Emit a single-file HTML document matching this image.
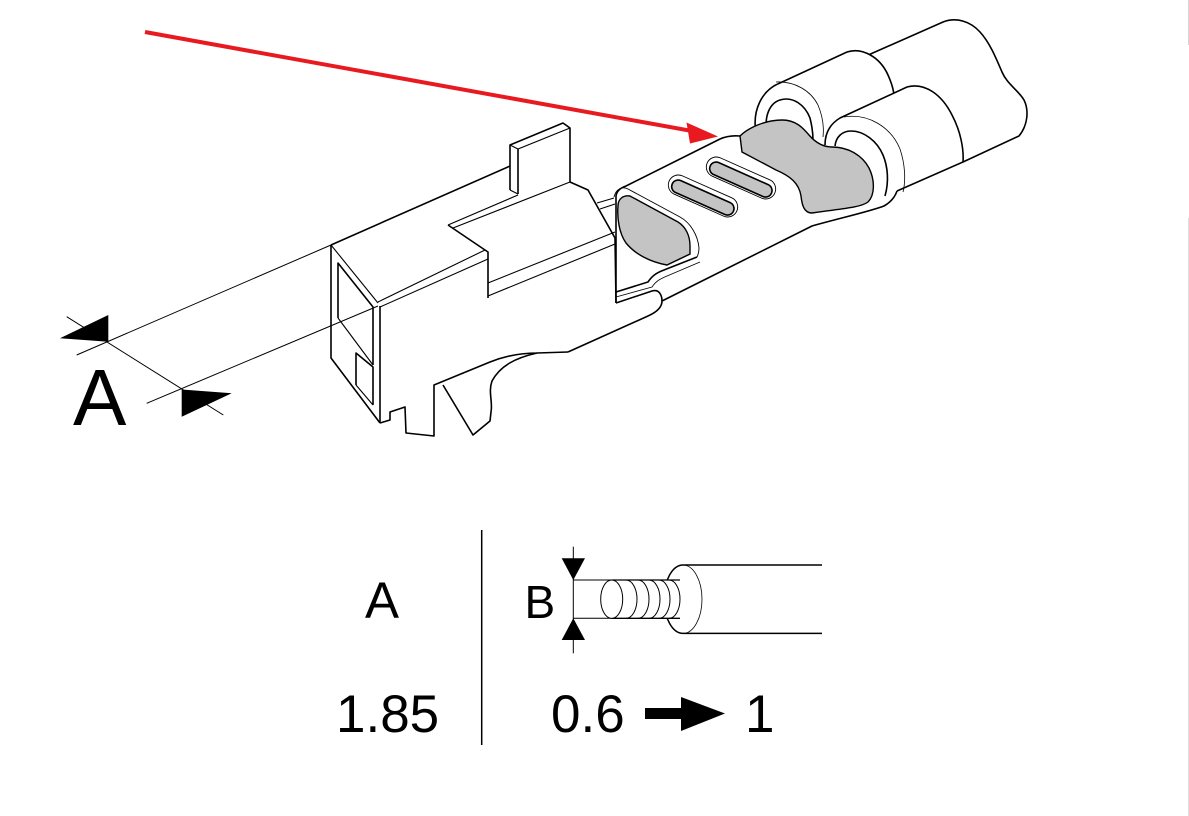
<!DOCTYPE html>
<html>
<head>
<meta charset="utf-8">
<style>
  html,body{margin:0;padding:0;background:#fff;}
  svg{display:block;}
  text{font-family:"Liberation Sans",Arial,sans-serif;fill:#000;}
</style>
</head>
<body>
<svg width="1189" height="816" viewBox="0 0 1189 816" xmlns="http://www.w3.org/2000/svg">
<rect width="1189" height="816" fill="#fff"/>

<!-- faint right edge line -->
<line x1="1188.5" y1="0" x2="1188.5" y2="45" stroke="#d6d6d6" stroke-width="1"/>
<line x1="1188.5" y1="218" x2="1188.5" y2="816" stroke="#dedede" stroke-width="1"/>

<!-- ===== Dimension A (left) ===== -->
<g stroke="#000" stroke-width="1" fill="none">
  <line x1="76.7" y1="355" x2="331" y2="245"/>
  <line x1="146.7" y1="403.3" x2="378" y2="306"/>
  <line x1="66.7" y1="316.7" x2="223.3" y2="415"/>
</g>
<polygon points="60,338.3 108.3,315 108.3,341.7" fill="#000"/>
<polygon points="181.7,389.5 231.7,393.3 181.7,416.7" fill="#000"/>
<text x="73" y="425" font-size="80">A</text>

<!-- ===== Wire (back) ===== -->
<path d="M866,56 L943,22 C956,17 970,21 980,32 C990,43 996,58 1002,72 C1007,84 1018,90 1024,100 C1029,110 1028,125 1019,136 L963,162 L880,150 Z" fill="#fff" stroke="none"/>
<path d="M866,56 L943,22 C956,17 970,21 980,32 C990,43 996,58 1002,72 C1007,84 1018,90 1024,100 C1029,110 1028,125 1019,136 L963,162" fill="none" stroke="#000" stroke-width="1.6"/>

<!-- ===== Back crimp ===== -->
<path d="M756,133 C752,110 762,90 780,83 L847,52 C862,47 880,57 888,75 C893,86 895,95 894,100 L830,150 Z" fill="#fff" stroke="none"/>
<path d="M756,133 C752,110 762,90 780,83 L847,52 C862,47 880,57 888,75 C892,84 894,92 894,97" fill="none" stroke="#000" stroke-width="1.6"/>
<path d="M776,82 C795,81 811,91 818,105 C823,117 824,128 823,137" fill="none" stroke="#000" stroke-width="0.8"/>
<path d="M767,131 C764,116 770,103 780,100 C793,96 805,105 810,118 C812,126 813,134 813,140" fill="none" stroke="#000" stroke-width="1.6"/>

<!-- ===== Front crimp ===== -->
<path d="M825,143 C825,133 830,124 840,118 L907,87 C925,82 942,95 952,115 C960,130 964,148 963,162 L896,192 C893,200 887,205 880,207 L830,170 Z" fill="#fff" stroke="none"/>
<path d="M825,145 C825,133 830,124 840,118 L907,87 C925,82 942,95 952,115 C960,130 964,148 963,162 L897,191" fill="none" stroke="#000" stroke-width="1.6"/>
<path d="M844,117 C868,113 891,127 900,149 C905,164 906,180 903,192" fill="none" stroke="#000" stroke-width="0.8"/>

<!-- ===== Grey conductor area ===== -->
<path d="M740,136 C748,128 765,120 782,120 C796,120 803,128 809,135 C815,142 822,147 832,147 C848,147 862,155 869,168 C875,180 875,195 868,202 C860,208 838,209 812,213 C804,213 802,205 801,196 C799,183 790,176 776,170 L742,152 Z" fill="#c4c4c4" stroke="#000" stroke-width="1.4"/>
<!-- front crimp hole edge -->
<path d="M835,146 C836,137 842,131 851,131 C864,131 877,141 883,155 C888,167 889,182 885,196" fill="none" stroke="#000" stroke-width="1.6"/>

<!-- ===== Barrel body ===== -->
<g fill="none" stroke="#000" stroke-width="1.6" stroke-linejoin="round">
  <path d="M616,303 L616,196 Q617,189 626,186 L720,139 Q729,135 740,136"/>
  <path d="M616,303 L652,291 C659,289 662,295 662,301"/>
  <path d="M568,352 L648,316 C657,312 662,307 662,301 L812,226 C840,218 868,212 884,206 C891,202 895,197 897,191"/>
</g>

<!-- window 1 -->
<path d="M614,197 C616,189 622,186 628,189 L680,217 C691,223 698,236 699,248 C699,252 698,255 697,257" fill="none" stroke="#000" stroke-width="0.9"/>
<path d="M616,292 L648,282 C652,276 656,273 664,270 L697,257" fill="none" stroke="#000" stroke-width="1.6"/>
<path d="M616,297 L652,287 C656,281 660,279 667,276 L700,262" fill="none" stroke="#000" stroke-width="0.8"/>
<path d="M618,206 C618,199 623,195 630,196 L678,222 C686,227 690,236 690,246 L690,254 L667,265 C650,262 635,254 626,243 C619,233 617,218 618,206 Z" fill="#c4c4c4" stroke="#000" stroke-width="1.4"/>

<!-- slots -->
<g transform="translate(703,196) rotate(24)">
  <rect x="-37" y="-10" width="74" height="20" rx="10" fill="#fff" stroke="#000" stroke-width="0.9"/>
  <rect x="-33" y="-5" width="67" height="13" rx="6.5" fill="#c4c4c4" stroke="#000" stroke-width="1.6"/>
</g>
<g transform="translate(741,178) rotate(24)">
  <rect x="-37" y="-10" width="74" height="20" rx="10" fill="#fff" stroke="#000" stroke-width="0.9"/>
  <rect x="-33" y="-5" width="67" height="13" rx="6.5" fill="#c4c4c4" stroke="#000" stroke-width="1.6"/>
</g>

<!-- small strip between housing and barrel -->
<g stroke="#000" stroke-width="1" fill="none">
  <line x1="597" y1="203" x2="614" y2="198"/>
  <line x1="600" y1="209" x2="615" y2="204"/>
</g>

<!-- ===== Housing ===== -->
<g fill="none" stroke="#000" stroke-width="1.6" stroke-linejoin="round">
  <path d="M331,245 L331,358 L380,423"/>
  <path d="M380,306 L380,423"/>
  <path d="M338,318 L338,263 L373,307 L373,365"/>
  <path d="M356,385 L356,353 L373,367 L373,405"/>
  <path d="M331,245 L510,166"/>
  <path d="M510,190 L510,145 L563,123 L570,128 L570,182"/>
  <path d="M518,194 L518,149"/>
  <path d="M448,225 L485,250 L488,252 L488,298"/>
  <path d="M570,182 L588,190 L615,238 L616,303"/>
  <path d="M380,423 L390,420 L390,412 L405,407 L406,433 L434,436 L434,385 L490,362 C505,356 520,353 537,353 L568,352"/>
  <path d="M443,385 L473,435 L490,421 L491,412 C493,402 488,392 492,381 C500,366 515,358 537,353"/>
</g>
<g fill="none" stroke="#000" stroke-width="1.1">
  <path d="M331,245 L378,303"/>
  <path d="M338,318 L373,365"/>
  <path d="M356,385 L373,405"/>
  <path d="M510,145 L518,149 L570,128"/>
  <path d="M510,190 L518,194"/>
  <path d="M448,225 L518,195"/>
  <path d="M453,228 L570,182"/>
  <path d="M378,302 L485,250"/>
  <path d="M380,307 L488,259"/>
  <path d="M488,283 L615,232"/>
  <path d="M488,296 L615,244"/>
</g>

<!-- ===== Red arrow ===== -->
<line x1="145" y1="32" x2="692" y2="131" stroke="#e8191f" stroke-width="4" stroke-linecap="butt"/>
<polygon points="718,136.5 686.5,122.5 690,143.5" fill="#e8191f"/>

<!-- ===== Table ===== -->
<line x1="481.7" y1="530" x2="481.7" y2="745" stroke="#000" stroke-width="1.5"/>
<text x="365" y="618" font-size="51">A</text>
<text x="336" y="732" font-size="53">1.85</text>
<text x="524.5" y="618" font-size="46">B</text>
<text x="551" y="732" font-size="53">0.6</text>
<rect x="645" y="708" width="40" height="11" fill="#000"/>
<polygon points="681,697 725,713.5 681,731" fill="#000"/>
<text x="745" y="732" font-size="53">1</text>

<!-- B dimension -->
<line x1="573.3" y1="546.7" x2="573.3" y2="653.3" stroke="#000" stroke-width="1"/>
<polygon points="561.7,558.3 585,558.3 573.3,580" fill="#000"/>
<polygon points="573.3,618.3 561.7,640 585,640" fill="#000"/>
<line x1="573" y1="580" x2="612" y2="580" stroke="#000" stroke-width="1"/>
<line x1="573" y1="618.3" x2="612" y2="618.3" stroke="#000" stroke-width="1"/>

<!-- insulation -->
<g fill="none" stroke="#000">
  <line x1="683" y1="565" x2="822" y2="565" stroke-width="1.5"/>
  <line x1="683" y1="633.4" x2="822" y2="633.4" stroke-width="1.5"/>
  <path d="M683,565 A19,34.2 0 0 0 683,633.4" stroke-width="1.5"/>
  <path d="M683,565 A19,34.2 0 0 1 683,633.4" stroke-width="0.8"/>
</g>
<!-- conductor -->
<path d="M611.7,580 L670,580 A11,19.15 0 0 1 670,618.3 L611.7,618.3 Z" fill="#fff" stroke="none"/>
<g fill="none" stroke="#000" stroke-width="1">
  <line x1="611.7" y1="580" x2="680" y2="580" stroke-width="1.3"/>
  <line x1="611.7" y1="618.3" x2="680" y2="618.3" stroke-width="1.3"/>
  <ellipse cx="611.7" cy="599.2" rx="11" ry="19.15" fill="#fff"/>
  <path d="M626,580 A11,19.15 0 0 1 626,618.3"/>
  <path d="M638,580 A11,19.15 0 0 1 638,618.3"/>
  <path d="M649,580 A11,19.15 0 0 1 649,618.3"/>
  <path d="M659,580 A11,19.15 0 0 1 659,618.3"/>
  <path d="M669,580 A11,19.15 0 0 1 669,618.3"/>
</g>

</svg>
</body>
</html>
